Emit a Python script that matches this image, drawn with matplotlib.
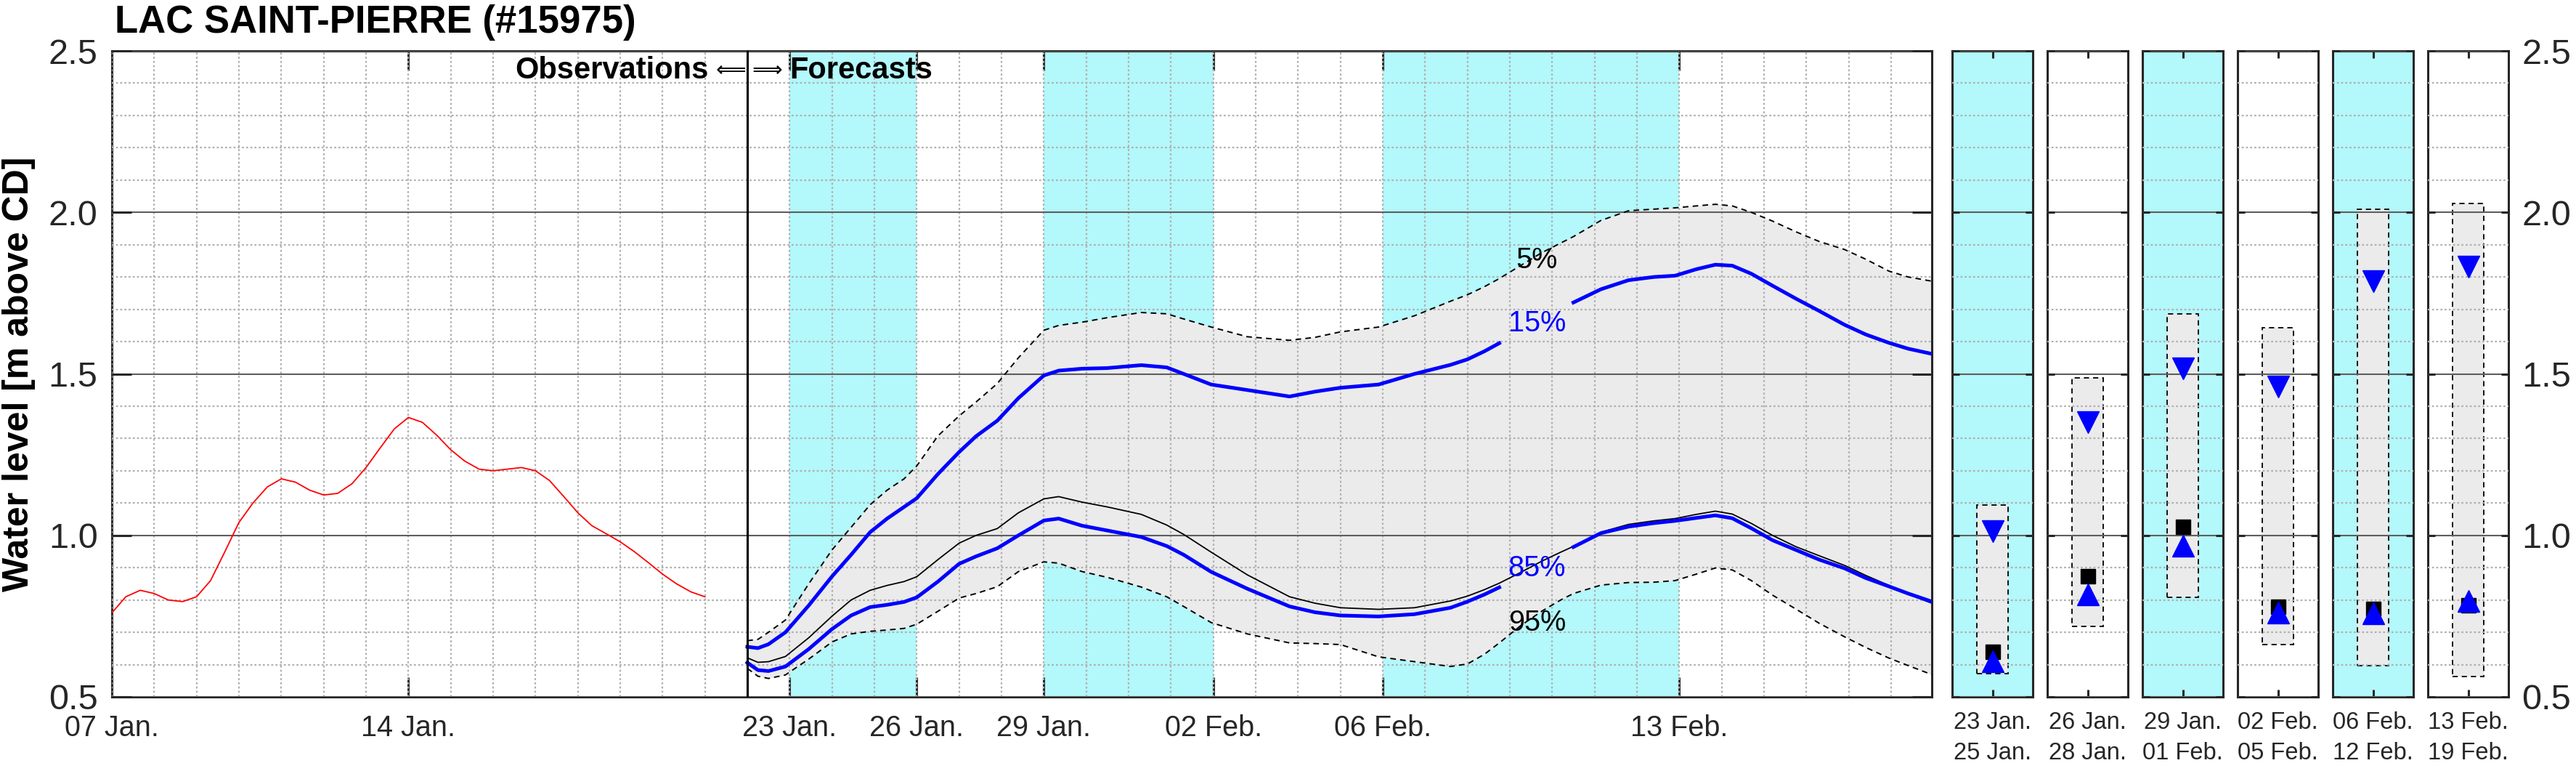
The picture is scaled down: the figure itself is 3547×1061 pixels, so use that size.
import numpy as np
import matplotlib
matplotlib.use("Agg")
import matplotlib.pyplot as plt
from matplotlib.ticker import MultipleLocator, FixedLocator
from matplotlib.patches import Rectangle

plt.rcParams["font.family"] = ["Liberation Sans", "DejaVu Sans"]

# ---------------------------------------------------------------------------
#  Data (x in days since 07 Jan.)
# ---------------------------------------------------------------------------
obs_day = [0.0, 0.33, 0.67, 1.0, 1.33, 1.67, 2.0, 2.33, 2.67, 3.0,
           3.33, 3.67, 4.0, 4.33, 4.67, 5.0, 5.33, 5.67, 6.0, 6.33,
           6.67, 7.0, 7.33, 7.67, 8.0, 8.33, 8.67, 9.0, 9.33, 9.67,
           10.0, 10.33, 10.67, 11.0, 11.33, 11.67, 12.0, 12.33, 12.67, 13.0,
           13.33, 13.67, 14.0]
obs_level = [0.76, 0.81, 0.83, 0.82, 0.80, 0.795, 0.81, 0.86, 0.95, 1.04,
             1.10, 1.15, 1.175, 1.165, 1.14, 1.125, 1.13, 1.16, 1.21, 1.27,
             1.33, 1.365, 1.35, 1.31, 1.265, 1.23, 1.205, 1.20, 1.205, 1.21,
             1.20, 1.17, 1.12, 1.07, 1.03, 1.005, 0.98, 0.95, 0.915, 0.88,
             0.85, 0.825, 0.81]

fc_day = [15.0, 15.25, 15.5, 15.9, 16.45, 17.0, 17.45, 17.9, 18.3, 18.7,
          19.0, 19.5, 20.0, 20.4, 20.9, 21.4, 22.0, 22.35, 22.9, 23.5,
          24.3, 24.9, 25.3, 25.95, 26.8, 27.8, 28.4, 29.0, 29.9, 30.75,
          31.6, 32.0, 32.4, 32.75, 33.25, 33.75, 34.2, 34.5, 35.15, 35.8,
          36.4, 36.9, 37.4, 37.85, 38.25, 38.7, 39.2, 39.75, 40.3, 40.9,
          41.4, 41.95, 42.4, 42.96]
fc_p05 = [0.674, 0.678, 0.70, 0.738, 0.85, 0.955, 1.025, 1.095, 1.14, 1.175,
          1.215, 1.308, 1.37, 1.413, 1.47, 1.55, 1.635, 1.65, 1.66, 1.674,
          1.69, 1.686, 1.67, 1.645, 1.615, 1.604, 1.613, 1.63, 1.645, 1.68,
          1.725, 1.745, 1.77, 1.795, 1.835, 1.875, 1.905, 1.925, 1.975, 2.005,
          2.01, 2.014, 2.02, 2.025, 2.02, 2.0, 1.973, 1.94, 1.91, 1.885,
          1.855, 1.818, 1.80, 1.787]
fc_p15 = [0.655, 0.651, 0.663, 0.70, 0.783, 0.873, 0.94, 1.01, 1.052, 1.088,
          1.115, 1.19, 1.258, 1.307, 1.355, 1.425, 1.495, 1.51, 1.516, 1.518,
          1.527, 1.52, 1.50, 1.467, 1.45, 1.43, 1.445, 1.457, 1.467, 1.50,
          1.528, 1.545, 1.57, 1.595, 1.635, 1.675, 1.705, 1.721, 1.762, 1.79,
          1.80, 1.804, 1.824, 1.838, 1.835, 1.81, 1.773, 1.733, 1.695, 1.652,
          1.622, 1.596, 1.578, 1.562]
fc_p50 = [0.621, 0.607, 0.609, 0.625, 0.683, 0.75, 0.80, 0.83, 0.845, 0.857,
          0.872, 0.925, 0.976, 1.0, 1.021, 1.07, 1.113, 1.12, 1.103, 1.088,
          1.065, 1.032, 1.003, 0.948, 0.878, 0.81, 0.79, 0.776, 0.771, 0.776,
          0.797, 0.812, 0.832, 0.852, 0.885, 0.92, 0.948, 0.966, 1.01, 1.034,
          1.045, 1.052, 1.065, 1.075, 1.066, 1.037, 1.0, 0.965, 0.937, 0.907,
          0.876, 0.845, 0.818, 0.79]
fc_p85 = [0.606, 0.583, 0.58, 0.594, 0.648, 0.71, 0.752, 0.778, 0.785, 0.794,
          0.808, 0.857, 0.912, 0.935, 0.96, 1.0, 1.046, 1.052, 1.03, 1.015,
          0.995, 0.967, 0.94, 0.887, 0.835, 0.78, 0.762, 0.752, 0.749, 0.756,
          0.776, 0.795, 0.817, 0.839, 0.875, 0.91, 0.94, 0.964, 1.007, 1.027,
          1.038, 1.045, 1.054, 1.062, 1.053, 1.022, 0.985, 0.955, 0.925, 0.898,
          0.868, 0.842, 0.82, 0.795]
fc_p95 = [0.588, 0.564, 0.557, 0.568, 0.617, 0.67, 0.695, 0.703, 0.707, 0.712,
          0.725, 0.765, 0.806, 0.82, 0.841, 0.888, 0.918, 0.914, 0.888, 0.87,
          0.84, 0.81, 0.78, 0.73, 0.695, 0.667, 0.665, 0.662, 0.624, 0.609,
          0.594, 0.602, 0.632, 0.667, 0.72, 0.765, 0.80, 0.82, 0.846, 0.854,
          0.855, 0.86, 0.88, 0.899, 0.893, 0.86, 0.815, 0.772, 0.728, 0.686,
          0.653, 0.62, 0.597, 0.569]

forecast_start = 15.0
x_end = 42.96
shade_periods = [(16, 19), (22, 26), (30, 37)]

xtick_days = [0, 7, 16, 19, 22, 26, 30, 37]
xtick_labels = ["07 Jan.", "14 Jan.", "23 Jan.", "26 Jan.", "29 Jan.",
                "02 Feb.", "06 Feb.", "13 Feb."]
ytick_vals = [0.5, 1.0, 1.5, 2.0, 2.5]

# percentile labels placed on the curves
pct_text = ["5%", "15%", "85%", "95%"]
pct_color = ["black", "blue", "blue", "black"]
pct_day = [33.64, 33.64, 33.64, 33.64]
pct_level = [1.852, 1.656, 0.898, 0.73]
label_gap = (32.8, 34.45)

# summary panels, one per period
period_labels = ["23 Jan.\n25 Jan.", "26 Jan.\n28 Jan.", "29 Jan.\n01 Feb.",
                 "02 Feb.\n05 Feb.", "06 Feb.\n12 Feb.", "13 Feb.\n19 Feb."]
period_shaded = [True, False, True, False, True, False]
period_low = [0.571, 0.718, 0.808, 0.662, 0.597, 0.564]
period_high = [1.094, 1.488, 1.686, 1.643, 2.010, 2.027]
period_p15 = [1.013, 1.351, 1.517, 1.461, 1.787, 1.831]
period_med = [0.640, 0.873, 1.027, 0.778, 0.772, 0.784]
period_p85 = [0.611, 0.818, 0.969, 0.761, 0.759, 0.798]

# ---------------------------------------------------------------------------
CYAN = "#b3f8fb"
GREY = "#ebebeb"
MINOR = "#b0b0b0"
MAJOR = "#5e5e5e"
AXC = "#262626"

W, H = 3547, 1061
fig = plt.figure(figsize=(W / 100, H / 100), dpi=100)


def px_axes(x0, y0, x1, y1):
    return fig.add_axes([x0 / W, 1 - y1 / H, (x1 - x0) / W, (y1 - y0) / H])


def style_axes(ax, ticklen):
    ax.set_ylim(0.5, 2.5)
    ax.set_axisbelow(False)
    ax.yaxis.set_major_locator(FixedLocator(ytick_vals))
    ax.yaxis.set_minor_locator(MultipleLocator(0.1))
    ax.grid(which="minor", axis="y", color=MINOR, lw=1.6, ls=(0, (1.2, 1.4)))
    ax.grid(which="major", axis="y", color=MAJOR, lw=1.5, ls="-")
    ax.tick_params(which="major", direction="in", length=ticklen, width=2.2,
                   color=AXC, top=True, right=True, labelcolor=AXC)
    ax.tick_params(which="minor", length=0)
    for s in ax.spines.values():
        s.set_linewidth(2.2)
        s.set_color(AXC)


# ---- main time-series axes -------------------------------------------------
ax = px_axes(154, 70, 2660, 959)
style_axes(ax, 19.4)
ax.set_xlim(0, x_end)
for a, b in shade_periods:
    ax.axvspan(a, b, color=CYAN, lw=0, zorder=0)

d = np.array(fc_day)
ax.fill_between(d, fc_p95, fc_p05, color=GREY, lw=0, zorder=1)
ax.plot(d, fc_p05, color="k", lw=1.4, ls=(0, (4, 3)), zorder=3)
ax.plot(d, fc_p95, color="k", lw=1.4, ls=(0, (4, 3)), zorder=3)
ax.plot(d, fc_p50, color="k", lw=1.3, zorder=3)

gap = (d > label_gap[0]) & (d < label_gap[1])
ax.plot(d, np.where(gap, np.nan, fc_p15), color="blue", lw=3.6, zorder=4)
ax.plot(d, np.where(gap, np.nan, fc_p85), color="blue", lw=3.6, zorder=4)
ax.plot(obs_day, obs_level, color="red", lw=1.3, zorder=3)
ax.axvline(forecast_start, color="k", lw=2.2, zorder=4)

for t, c, x, y in zip(pct_text, pct_color, pct_day, pct_level):
    ax.text(x, y, t, color=c, fontsize=28.5, ha="center", va="center", zorder=5)

# "Observations <= => Forecasts" around the forecast start line
ax.text(14.08, 2.4145, "Observations", ha="right", va="baseline",
        fontsize=30, fontweight="bold", zorder=5)
ax.text(forecast_start - 0.02, 2.441, r"$\Longleftarrow$", ha="right",
        va="center", fontsize=21, zorder=5)
ax.text(forecast_start + 0.02, 2.441, r"$\Longrightarrow$", ha="left",
        va="center", fontsize=21, zorder=5)
ax.text(16.0, 2.4145, "Forecasts", ha="left", va="baseline",
        fontsize=30, fontweight="bold", zorder=5)

ax.set_xticks(xtick_days, xtick_labels)
ax.xaxis.set_minor_locator(MultipleLocator(1))
ax.xaxis.remove_overlapping_locs = False
ax.grid(which="minor", axis="x", color=MINOR, lw=1.6, ls=(0, (1.2, 1.4)))
ax.grid(which="major", axis="x", visible=False)
ax.set_yticks(ytick_vals, [f"{v:.1f}" for v in ytick_vals])
ax.tick_params(axis="x", labelsize=28.5, pad=17.5)
ax.tick_params(axis="y", labelsize=35, pad=14)

# ---- period summary panels -------------------------------------------------
half = 0.197
for i, lab in enumerate(period_labels):
    x0 = 2688 + 131 * i
    pa = px_axes(x0, 70, x0 + 111, 959)
    style_axes(pa, 7)
    pa.set_xlim(0, 1)
    if period_shaded[i]:
        pa.set_facecolor(CYAN)
    pa.add_patch(Rectangle((0.5 - half, period_low[i]), 2 * half,
                           period_high[i] - period_low[i], facecolor=GREY,
                           edgecolor="k", lw=1.3, ls=(0, (4, 3)), zorder=1))
    pa.plot(0.5, period_med[i], "s", color="k", ms=15, zorder=4)
    pa.plot(0.5, period_p15[i], "v", color="blue", ms=22, zorder=5)
    pa.plot(0.5, period_p85[i], "^", color="blue", ms=22, zorder=5)
    pa.set_xticks([0.5], [lab])
    for tl in pa.get_xticklabels():
        tl.set_linespacing(1.45)
    pa.tick_params(axis="x", labelsize=23.5, pad=14.5)
    pa.set_yticks(ytick_vals, [f"{v:.1f}" for v in ytick_vals])
    pa.tick_params(axis="y", labelleft=False, labelright=(i == len(period_labels) - 1),
                   labelsize=35, pad=13)

fig.text(158 / W, 1 - 45 / H, "LAC SAINT-PIERRE (#15975)", fontsize=38,
         fontweight="bold", ha="left", va="baseline")
fig.text(26 / W, 1 - 515 / H, "Water level [m above CD]", rotation=90,
         fontsize=36, fontweight="bold", ha="center", va="center")

fig.savefig("out.png", dpi=100)
